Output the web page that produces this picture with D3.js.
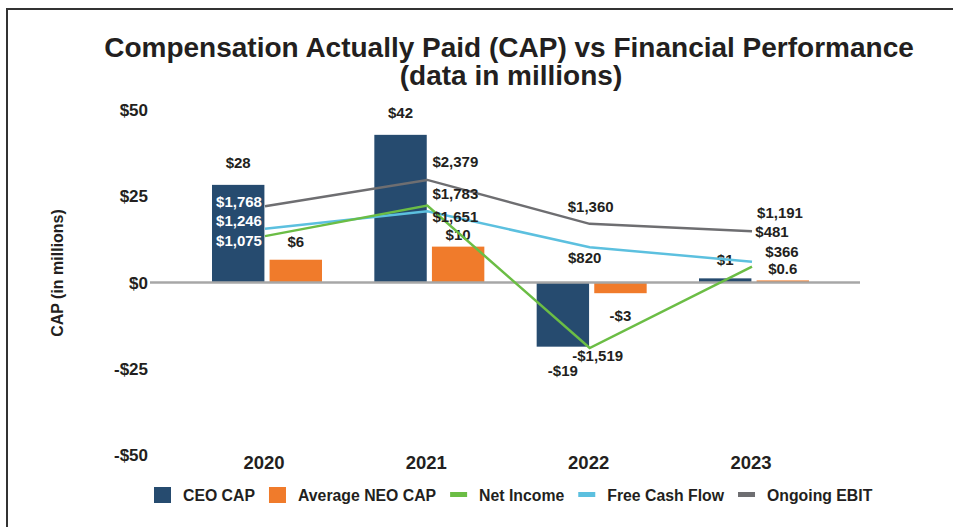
<!DOCTYPE html>
<html>
<head>
<meta charset="utf-8">
<script src="https://cdn.jsdelivr.net/npm/d3@7"></script>
<style>
    body { margin: 0; background: #fff; }
    svg text { font-family: Arial, "Liberation Sans", Helvetica, sans-serif; font-weight: bold; fill: #231f20; }
</style>
</head>
<body>
<div id="chart"></div>
<script>
// data (millions)
const years = ["2020", "2021", "2022", "2023"];
const ceoCap = [28.3, 42.8, -18.6, 1.2];
const neoCap = [6.6, 10.4, -3.1, 0.6];
const ceoLabels = ["$28", "$42", "-$19", "$1"];
const neoLabels = ["$6", "$10", "-$3", "$0.6"];
const netIncome = [1075, 1783, -1519, 366];
const freeCashFlow = [1246, 1651, 820, 481];
const ongoingEbit = [1768, 2379, 1360, 1191];
const capTicks = [50, 25, 0, -25, -50];

const width = 953, height = 527;
const colors = {ceo: "#264b6f", neo: "#f07b2b", ni: "#6bbd45", fcf: "#5cc0df", ebit: "#6e6e71"};

const svg = d3.select("#chart").append("svg")
    .attr("width", width)
    .attr("height", height);

// frame
svg.append("path")
    .attr("d", "M7,530V9H956")
    .attr("fill", "none")
    .attr("stroke", "#333")
    .attr("stroke-width", 2);

// title
svg.append("text")
    .attr("x", 509).attr("y", 57)
    .attr("text-anchor", "middle")
    .style("font-size", "28px")
    .text("Compensation Actually Paid (CAP) vs Financial Performance");
svg.append("text")
    .attr("x", 511).attr("y", 85)
    .attr("text-anchor", "middle")
    .style("font-size", "28px")
    .text("(data in millions)");

// scales
const y = d3.scaleLinear().domain([-50, 50]).range([455, 110]);
const y2 = d3.scaleLinear().domain([-4000, 4000]).range([455, 110]); // hidden secondary axis for the lines
const x = d3.scalePoint().domain(years).range([267, 754]);
const xSub = d3.scaleBand().domain(["ceo", "neo"]).range([-55, 55]).paddingInner(0.09);

// y axis tick labels
svg.selectAll(".ytick").data(capTicks).enter()
    .append("text")
    .attr("class", "ytick")
    .attr("x", 148)
    .attr("y", d => y(d))
    .attr("dy", "0.36em")
    .attr("text-anchor", "end")
    .style("font-size", "17px")
    .text(d => (d < 0 ? "-$" : "$") + Math.abs(d));

svg.append("text")
    .attr("transform", "translate(63, 273) rotate(-90)")
    .attr("text-anchor", "middle")
    .style("font-size", "16px")
    .text("CAP (in millions)");

// year labels
svg.selectAll(".year").data(years).enter()
    .append("text")
    .attr("class", "year")
    .attr("x", d => x(d) - 3)
    .attr("y", 469)
    .attr("text-anchor", "middle")
    .style("font-size", "18.5px")
    .text(d => d);

// bars
const barRows = years.map((yr, i) => ({year: yr, ceo: ceoCap[i], neo: neoCap[i]}));
const groups = svg.selectAll(".grp").data(barRows).enter()
    .append("g")
    .attr("class", "grp")
    .attr("transform", d => `translate(${x(d.year)},0)`);

groups.selectAll("rect")
    .data(d => ["ceo", "neo"].map(k => ({key: k, value: d[k]})))
    .enter().append("rect")
    .attr("x", d => xSub(d.key))
    .attr("width", xSub.bandwidth())
    .attr("y", d => y(Math.max(0, d.value)))
    .attr("height", d => Math.abs(y(d.value) - y(0)))
    .attr("fill", d => colors[d.key]);

// zero line
svg.append("line")
    .attr("x1", 150).attr("x2", 860)
    .attr("y1", y(0)).attr("y2", y(0))
    .attr("stroke", "#a7a7a7")
    .attr("stroke-width", 2.5);

// bar value labels (nudges keep them clear of the line labels)
const barNudge = {ceo: [0, 0, 2, 3], neo: [4, 10, 1, 10]};
function barLabels(vals, labels, key) {
    svg.selectAll(".lbl-" + key).data(vals).enter()
        .append("text")
        .attr("class", "lbl-" + key)
        .attr("x", (d, i) => x(years[i]) + xSub(key) + xSub.bandwidth() / 2)
        .attr("y", (d, i) => d >= 0 ? y(d) - 22 + barNudge[key][i] : y(d) + 22 + barNudge[key][i])
        .attr("dy", "0.35em")
        .attr("text-anchor", "middle")
        .style("font-size", "15px")
        .text((d, i) => labels[i]);
}
barLabels(ceoCap, ceoLabels, "ceo");
barLabels(neoCap, neoLabels, "neo");

// lines
const lineGen = d3.line()
    .x((d, i) => x(years[i]) - 2)
    .y(d => y2(d));

const series = [
    {key: "ebit", values: ongoingEbit, offs: [[-26, -5], [28, -18], [1, -17], [28, -18]]},
    {key: "fcf", values: freeCashFlow, offs: [[-26, -8], [28, 5], [-5, 11], [20, -30]]},
    {key: "ni", values: netIncome, offs: [[-26, 5], [28, -12], [8, 8], [30, -15]]}
];

series.forEach(s => {
    svg.append("path")
        .datum(s.values)
        .attr("fill", "none")
        .attr("stroke", colors[s.key])
        .attr("stroke-width", 2.5)
        .attr("d", lineGen);
});

const fmt = d => (d < 0 ? "-$" : "$") + d3.format(",")(Math.abs(d));
series.forEach(s => {
    svg.selectAll(".ll-" + s.key).data(s.values).enter()
        .append("text")
        .attr("class", "ll-" + s.key)
        .attr("x", (d, i) => x(years[i]) - 2 + s.offs[i][0])
        .attr("y", (d, i) => y2(d) + s.offs[i][1])
        .attr("dy", "0.35em")
        .attr("text-anchor", "middle")
        .style("font-size", "15px")
        .style("fill", (d, i) => i === 0 ? "#fff" : null)
        .text(fmt);
});

// legend
const legendItems = [
    {label: "CEO CAP", key: "ceo", type: "box"},
    {label: "Average NEO CAP", key: "neo", type: "box"},
    {label: "Net Income", key: "ni", type: "line"},
    {label: "Free Cash Flow", key: "fcf", type: "line"},
    {label: "Ongoing EBIT", key: "ebit", type: "line"}
];
let lx = 154;
const ly = 495;
legendItems.forEach(item => {
    if (item.type === "box") {
        svg.append("rect")
            .attr("x", lx).attr("y", ly - 8)
            .attr("width", 17).attr("height", 16)
            .attr("fill", colors[item.key]);
    } else {
        svg.append("rect")
            .attr("x", lx).attr("y", ly - 3)
            .attr("width", 17).attr("height", 5)
            .attr("fill", colors[item.key]);
    }
    const t = svg.append("text")
        .attr("x", lx + 29).attr("y", ly)
        .attr("dy", "0.35em")
        .style("font-size", "15.8px")
        .text(item.label);
    lx += 29 + t.node().getComputedTextLength() + 14;
});
</script>
</body>
</html>
